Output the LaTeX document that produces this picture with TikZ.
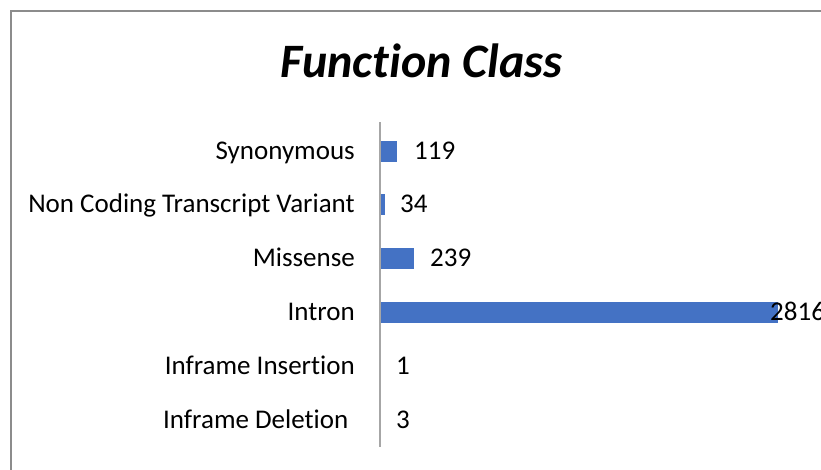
\documentclass[tikz,border=0pt]{standalone}
\usepackage{fontspec}
\setmainfont{Carlito}[Ligatures={NoCommon}]
\definecolor{barblue}{HTML}{4472C4}
\definecolor{frame}{HTML}{8C8C8C}
\definecolor{axisgrey}{HTML}{A6A6A6}
\begin{document}
\begin{tikzpicture}[x=1pt,y=-1pt,
  cat/.style={anchor=base east,inner sep=0pt,font=\fontsize{27}{32}\selectfont},
  val/.style={anchor=base west,inner sep=0pt,font=\fontsize{27}{32}\selectfont},
  ttl/.style={anchor=base,inner sep=0pt,font=\fontsize{48}{58}\selectfont\bfseries\itshape}]
\useasboundingbox (0,0) rectangle (821,469);
\draw[frame,line width=1.5pt] (11,475) -- (11,11) -- (830,11);
\node[ttl] (title) at (421.5,77) {Function Class};
% axis
\coordinate (axtop) at (380,122);
\coordinate (axbot) at (380,447);
\draw[axisgrey,line width=1.2pt] (axtop) -- (axbot);
% bars: scale 397/2816
\def\sc{0.14098}
\def\bh{10.5}
\foreach \v/\c in {119/151,34/204.8,239/258.6,2816/312.4} {
  \fill[barblue] (380.6,\c-\bh) rectangle (380.6+\v*\sc,\c+\bh);
}
% categories
\node[cat] (c1) at (355,159) {Synonymous};
\node[cat] (c2) at (355,212.8) {Non Coding Transcript Variant};
\node[cat] (c3) at (355,266.6) {Missense};
\node[cat] (c4) at (355,320.4) {Intron};
\node[cat] (c5) at (355,374.2) {Inframe Insertion};
\node[cat] (c6) at (348.5,428) {Inframe Deletion};
% values
\node[val] (v1) at (414,159) {119};
\node[val] (v2) at (400,212.8) {34};
\node[val] (v3) at (430,266.6) {239};
\node[val] (v4) at (770,320.4) {2816};
\node[val] (v5) at (396,374.2) {1};
\node[val] (v6) at (396,428) {3};
\end{tikzpicture}
\end{document}
